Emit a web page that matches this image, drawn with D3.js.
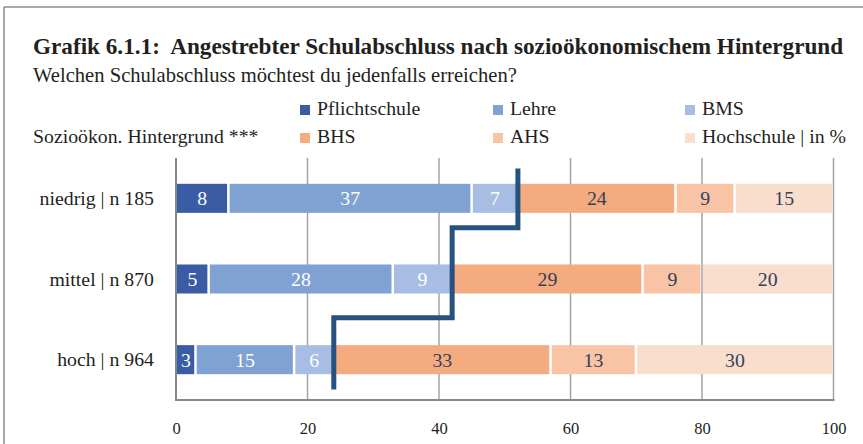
<!DOCTYPE html>
<html>
<head>
<meta charset="utf-8">
<script src="https://cdn.jsdelivr.net/npm/d3@7"></script>
<style>
  body { margin: 0; background: #fff; }
  svg { display: block; font-family: 'Liberation Serif', 'DejaVu Serif', serif; }
</style>
</head>
<body>
<svg id="chart" width="863" height="444"></svg>
<script>
// Daten
const categories = ['niedrig | n 185', 'mittel | n 870', 'hoch | n 964']
const seriesNames = ['Pflichtschule', 'Lehre', 'BMS', 'BHS', 'AHS', 'Hochschule | in %']
const pflichtschule = [8, 5, 3]
const lehre = [37, 28, 15]
const bms = [7, 9, 6]
const bhs = [24, 29, 33]
const ahs = [9, 9, 13]
const hochschule = [15, 20, 30]
const xTicks = [0, 20, 40, 60, 80, 100]

const seriesValues = [pflichtschule, lehre, bms, bhs, ahs, hochschule]
const colors = ['#3a5ca4', '#7fa2d3', '#a8bde3', '#f5ab80', '#f8c4a5', '#f9decd']
const labelColors = ['#fff', '#fff', '#fff', '#34405c', '#34405c', '#34405c']

const width = 863
const height = 444
const fs = 19.8 // normale Schriftgröße
const svg = d3.select('#chart')

// Rahmen
svg.append('line').attr('x1', 4).attr('y1', 7).attr('x2', width).attr('y2', 7)
  .attr('stroke', '#8c8c8c').attr('stroke-width', 1.5)
svg.append('line').attr('x1', 4).attr('y1', 7).attr('x2', 4).attr('y2', height)
  .attr('stroke', '#8c8c8c').attr('stroke-width', 1.5)

// Titel
svg.append('text').attr('x', 33).attr('y', 54)
  .attr('font-size', 23.2).attr('font-weight', 'bold').attr('fill', '#231f20')
  .text('Grafik 6.1.1:\u00a0 Angestrebter Schulabschluss nach sozioökonomischem Hintergrund')
svg.append('text').attr('x', 33).attr('y', 82)
  .attr('font-size', fs + 0.8).attr('fill', '#231f20')
  .text('Welchen Schulabschluss möchtest du jedenfalls erreichen?')
svg.append('text').attr('x', 33).attr('y', 143)
  .attr('font-size', fs).attr('fill', '#231f20')
  .text('Sozioökon. Hintergrund ***')

// Legende
const legendCols = [300, 493, 685]
const legendRows = [115, 143]
const legend = svg.append('g').attr('class', 'legend')
seriesNames.forEach((name, i) => {
  const lx = legendCols[i % 3]
  const ly = legendRows[Math.floor(i / 3)]
  legend.append('rect').attr('x', lx).attr('y', ly - 10).attr('width', 10).attr('height', 10)
    .attr('fill', colors[i])
  legend.append('text').attr('x', lx + 17).attr('y', ly)
    .attr('font-size', fs).attr('fill', '#231f20').text(name)
})

// Skalen
const plotTop = 158
const plotBottom = 400
const x = d3.scaleLinear().domain([0, 100]).range([176, 833.5])
const y = d3.scaleBand().domain(categories).range([plotTop, plotBottom])
  .paddingInner(0.64).paddingOuter(0.32)

// Gitterlinien
svg.append('g').attr('class', 'grid')
  .selectAll('line')
  .data(xTicks.slice(1))
  .enter()
  .append('line')
  .attr('x1', d => x(d)).attr('x2', d => x(d))
  .attr('y1', plotTop).attr('y2', plotBottom)
  .attr('stroke', '#a3a3a3').attr('stroke-width', 1.5)

// Achsen
svg.append('line').attr('x1', x(0)).attr('x2', x(0)).attr('y1', plotTop).attr('y2', plotBottom)
  .attr('stroke', '#888').attr('stroke-width', 2)
svg.append('line').attr('x1', x(0) - 1).attr('x2', x(100) + 1).attr('y1', plotBottom).attr('y2', plotBottom)
  .attr('stroke', '#888').attr('stroke-width', 2)

const xAxis = svg.append('g')
  .attr('transform', `translate(0,${plotBottom})`)
  .call(d3.axisBottom(x).tickValues(xTicks).tickSize(0).tickPadding(22))
xAxis.select('.domain').remove()
xAxis.selectAll('text').attr('font-size', 16.5).attr('fill', '#231f20')
  .attr('font-family', "'Liberation Serif', serif")

// Kategorien
svg.append('g').selectAll('text')
  .data(categories)
  .enter()
  .append('text')
  .attr('x', 154)
  .attr('y', d => y(d) + y.bandwidth() / 2 + 6.5)
  .attr('text-anchor', 'end')
  .attr('font-size', fs)
  .attr('fill', '#231f20')
  .text(d => d)

// Balken (gestapelt)
const rows = categories.map((c, r) => {
  let cum = 0
  return seriesValues.map((vals, s) => {
    const seg = { cat: c, s: s, start: cum, value: vals[r] }
    cum += vals[r]
    return seg
  })
})

const bars = svg.append('g').attr('class', 'bars')
rows.forEach(row => {
  const g = bars.append('g')
  g.selectAll('rect')
    .data(row)
    .enter()
    .append('rect')
    .attr('x', d => x(d.start) + 1)
    .attr('y', d => y(d.cat))
    .attr('width', d => x(d.start + d.value) - x(d.start) - 2.5)
    .attr('height', y.bandwidth())
    .attr('fill', d => colors[d.s])
  g.selectAll('text')
    .data(row)
    .enter()
    .append('text')
    .attr('x', d => (x(d.start) + x(d.start + d.value)) / 2)
    .attr('y', d => y(d.cat) + y.bandwidth() / 2 + 7)
    .attr('text-anchor', 'middle')
    .attr('font-size', fs)
    .attr('fill', d => labelColors[d.s])
    .text(d => d.value)
})

// Treppenlinie: Summe Pflichtschule + Lehre + BMS
const split = categories.map((c, i) => pflichtschule[i] + lehre[i] + bms[i])
const yi = d3.scaleLinear().domain([0, 2]).range(categories.map(c => y(c) + y.bandwidth() / 2).filter((d, i) => i !== 1))
const stepY = [-0.37, 0.365, 1.48, 2.37]
const pts = []
split.forEach((v, i) => {
  pts.push([x(v), yi(stepY[i])])
  pts.push([x(v), yi(stepY[i + 1])])
})
svg.append('path')
  .attr('d', d3.line()(pts))
  .attr('fill', 'none')
  .attr('stroke', '#27517f')
  .attr('stroke-width', 5)
</script>
</body>
</html>
